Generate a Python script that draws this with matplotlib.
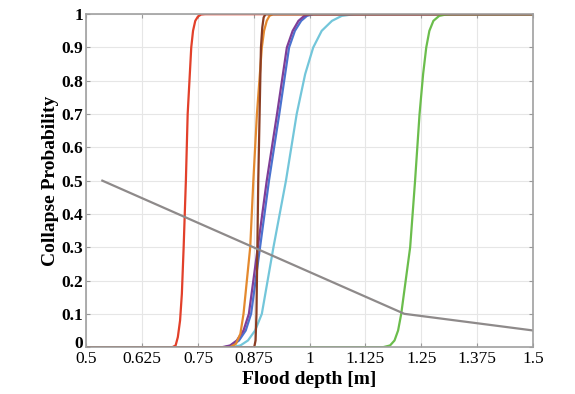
import matplotlib.pyplot as plt
from matplotlib.transforms import ScaledTranslation

# fragility curves (flood depth [m], collapse probability)
red_x = [0.5, 0.693, 0.700, 0.705, 0.710, 0.714, 0.718, 0.723, 0.727, 0.731, 0.735, 0.739, 0.744, 0.750, 0.757, 0.766, 1.5]
red_y = [0.0, 0.0, 0.005, 0.03, 0.08, 0.16, 0.3, 0.5, 0.7, 0.8, 0.9, 0.95, 0.98, 0.993, 0.999, 1.0, 1.0]

orange_x = [0.5, 0.822, 0.835, 0.845, 0.852, 0.867, 0.874, 0.882, 0.893, 0.898, 0.904, 0.910, 0.918, 1.5]
orange_y = [0.0, 0.0, 0.01, 0.04, 0.1, 0.3, 0.5, 0.7, 0.9, 0.95, 0.98, 0.995, 1.0, 1.0]

purple_x = [0.5, 0.805, 0.822, 0.837, 0.852, 0.864, 0.884, 0.904, 0.927, 0.949, 0.962, 0.975, 0.988, 1.001, 1.5]
purple_y = [0.0, 0.0, 0.005, 0.02, 0.05, 0.1, 0.3, 0.5, 0.7, 0.9, 0.95, 0.98, 0.995, 1.0, 1.0]

blue_x = [0.5, 0.810, 0.827, 0.842, 0.857, 0.869, 0.889, 0.909, 0.932, 0.954, 0.967, 0.981, 0.994, 1.008, 1.5]
blue_y = [0.0, 0.0, 0.005, 0.02, 0.05, 0.1, 0.3, 0.5, 0.7, 0.9, 0.95, 0.98, 0.995, 1.0, 1.0]

cyan_x = [0.5, 0.825, 0.845, 0.862, 0.878, 0.893, 0.919, 0.947, 0.971, 0.990, 1.008, 1.027, 1.050, 1.072, 1.100, 1.5]
cyan_y = [0.0, 0.0, 0.005, 0.02, 0.05, 0.1, 0.3, 0.5, 0.7, 0.82, 0.9, 0.95, 0.98, 0.995, 1.0, 1.0]

green_x = [0.5, 1.165, 1.180, 1.190, 1.198, 1.205, 1.225, 1.236, 1.246, 1.254, 1.261, 1.268, 1.277, 1.290, 1.305, 1.320, 1.5]
green_y = [0.0, 0.0, 0.005, 0.02, 0.05, 0.1, 0.3, 0.5, 0.7, 0.82, 0.9, 0.95, 0.98, 0.995, 0.999, 1.0, 1.0]

brown_x = [0.5, 0.876, 0.879, 0.881, 0.883, 0.885, 0.888, 0.891, 0.894, 0.897, 0.901, 1.5]
brown_y = [0.0, 0.0, 0.02, 0.1, 0.3, 0.5, 0.7, 0.9, 0.96, 0.99, 1.0, 1.0]

gray_x = [0.536, 1.212, 1.5]
gray_y = [0.5, 0.1, 0.05]

x_ticks = [0.5, 0.625, 0.75, 0.875, 1, 1.125, 1.25, 1.375, 1.5]
x_labels = ["0.5", "0.625", "0.75", "0.875", "1", "1.125", "1.25", "1.375", "1.5"]
y_ticks = [0, 0.1, 0.2, 0.3, 0.4, 0.5, 0.6, 0.7, 0.8, 0.9, 1]
y_labels = ["0", "0.1", "0.2", "0.3", "0.4", "0.5", "0.6", "0.7", "0.8", "0.9", "1"]

plt.rcParams['font.family'] = ['Liberation Serif', 'DejaVu Serif']

fig = plt.figure(figsize=(5.75, 3.94), dpi=100)
ax = fig.add_axes([0.150, 0.119, 0.777, 0.845])

lw = 1.6
ax.plot(red_x, red_y, color='#e2402a', lw=lw)
ax.plot(cyan_x, cyan_y, color='#73c6da', lw=lw)
ax.plot(blue_x, blue_y, color='#4a72cf', lw=lw)
ax.plot(purple_x, purple_y, color='#7f3e97', lw=lw)
ax.plot(orange_x, orange_y, color='#e4892e', lw=lw)
ax.plot(green_x, green_y, color='#6bbd4c', lw=lw)
ax.plot(brown_x, brown_y, color='#8a3c22', lw=lw)
ax.plot(gray_x, gray_y, color='#8e8a8a', lw=lw)

ax.set_xlim(0.5, 1.5)
ax.set_ylim(0, 1)
ax.set_xticks(x_ticks)
ax.set_xticklabels(x_labels, fontsize=12.5)
ax.set_yticks(y_ticks)
ax.set_yticklabels(y_labels, fontsize=12.5, fontweight='bold')
ax.tick_params(direction='in', top=True, right=True, length=3, color='#999999')
ax.tick_params(axis='x', pad=3)
ax.tick_params(axis='y', pad=2)
ax.grid(True, color='#e6e6e6', lw=0.8)
ax.set_axisbelow(True)
for s in ax.spines.values():
    s.set_color('#a0a0a0')
    s.set_linewidth(1.2)

# nudge the corner "0" up a little so it sits above "0.5" as in the original
ax.get_yticklabels()[0].set_transform(
    ax.get_yticklabels()[0].get_transform() + ScaledTranslation(0, 4 / 72, fig.dpi_scale_trans))

ax.set_xlabel("Flood depth [m]", fontsize=14, fontweight='bold', labelpad=3)
ax.set_ylabel("Collapse Probability", fontsize=14, fontweight='bold', labelpad=2)

fig.savefig("out.png", dpi=100)
